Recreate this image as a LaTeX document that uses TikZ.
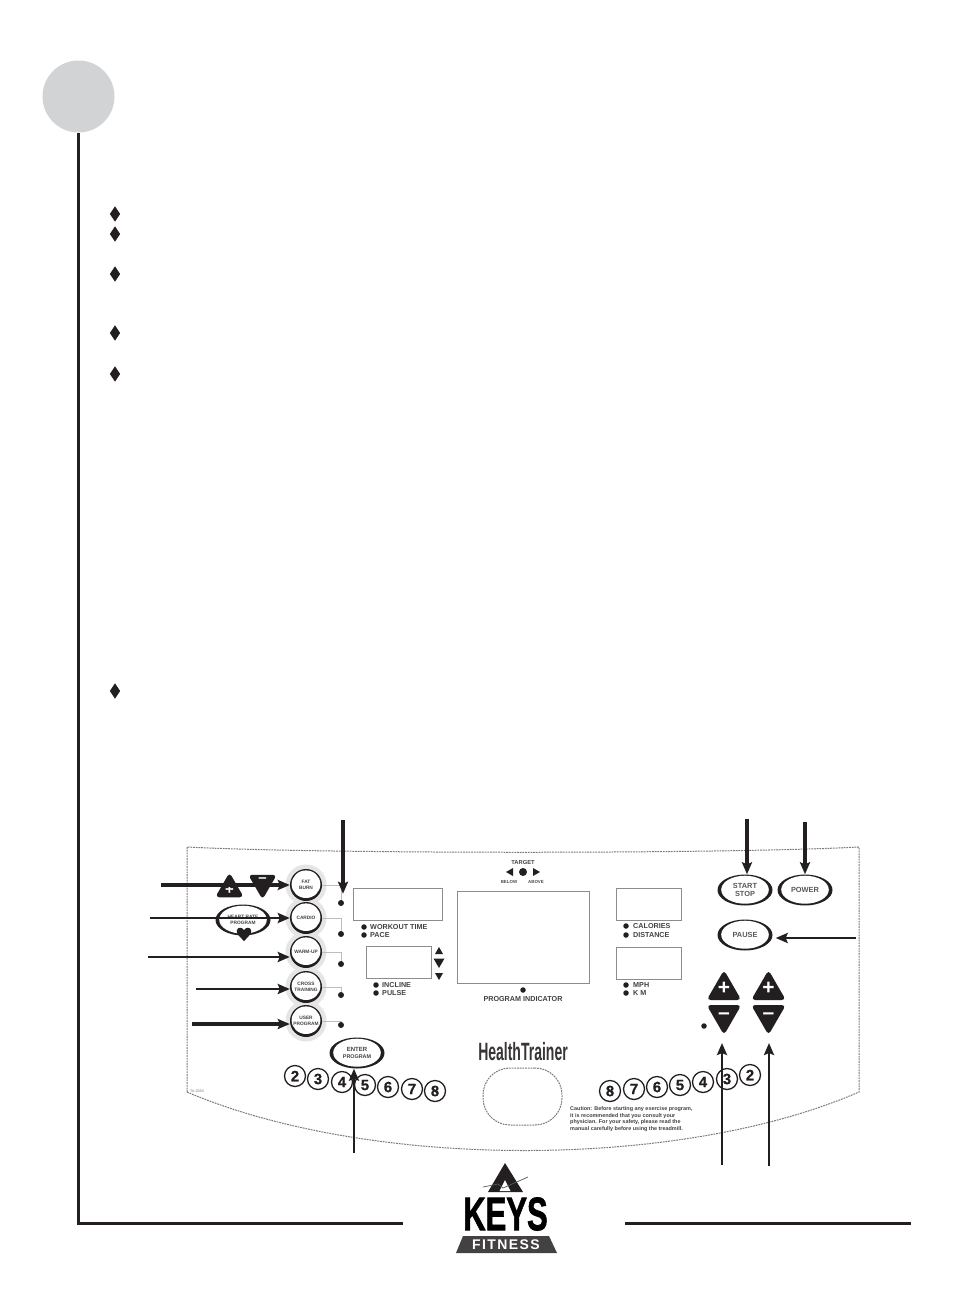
\documentclass[tikz,border=0pt]{standalone}
\usepackage{fontspec}
\setmainfont{Liberation Sans}
\newfontfamily\heavyfont[FakeBold=1.6]{Liberation Sans Bold}
\newfontfamily\spacedfont[LetterSpace=10]{Liberation Sans Bold}
\newfontfamily\semiheavy[FakeBold=.5]{Liberation Sans Bold}
\usetikzlibrary{arrows.meta,shapes.geometric,calc}
\definecolor{ink}{HTML}{231F20}
\definecolor{disc}{HTML}{D1D3D4}
\definecolor{wire}{HTML}{BDBDBD}
\definecolor{panelgray}{HTML}{7A7A7A}
\tikzset{
  ringbtn/.style n args={5}{ellipse,fill=ink,inner sep=-6pt,minimum width=#1,minimum height=#2,align=center,
     text=ink!85,font=\fontsize{5.4}{6.2}\selectfont\bfseries,
     path picture={\fill[white] ([yshift=#5]path picture bounding box.center) ellipse [x radius=#3,y radius=#4];}},
  prog/.style={ringbtn={32pt}{32pt}{14.4pt}{13.8pt}{.8pt},font=\fontsize{4.8}{5.6}\selectfont\bfseries},
  oval/.style={ringbtn={55pt}{31pt}{23.8pt}{14pt}{.3pt}},
  bigoval/.style={oval,font=\fontsize{7.4}{8.2}\selectfont\bfseries,text=ink!75},
  halo/.style={fill=black!10,draw=none},
  led/.style={circle,fill=ink,inner sep=0pt,minimum size=6pt},
  smallled/.style={circle,fill=ink,inner sep=0pt,minimum size=5.5pt},
  display/.style={rectangle,draw=black!45,line width=.8pt,fill=white,inner sep=0pt,anchor=north west},
  lbl/.style={inner sep=0pt,anchor=west,text=ink!85,font=\fontsize{7.2}{7.6}\selectfont\bfseries},
  tiny/.style={inner sep=0pt,text=ink!80,font=\fontsize{4.4}{5}\selectfont\bfseries},
  num/.style={circle,draw=ink,line width=1.3pt,fill=white,inner sep=0pt,minimum size=21pt,text=ink,font=\fontsize{15}{15}\semiheavy},
  tri/.style={regular polygon,regular polygon sides=3,fill=ink,inner sep=0pt,minimum size=40pt,rounded corners=4pt},
  tridown/.style={tri,shape border rotate=180},
  sign/.style={inner sep=0pt,text=white,font=\fontsize{21}{21}\selectfont\bfseries},
  bullet/.style={diamond,fill=ink,inner sep=0pt,minimum width=10.5pt,minimum height=15.5pt},
  rule/.style={ink,line width=3pt},
  pointer/.style={ink,line width=3.4pt,-{Stealth[length=12pt,width=10pt,inset=2pt]}},
  pointerthin/.style={ink,line width=2.8pt,-{Stealth[length=12pt,width=10pt,inset=2pt]}},
  wireline/.style={wire,line width=.6pt},
  panel/.style={panelgray,line width=1pt,dash pattern=on 1.8pt off .9pt},
}
\begin{document}
\begin{tikzpicture}[x=1pt,y=-1pt]
\path[fill=white,use as bounding box] (0,0) rectangle (954,1312);

% page furniture
\node[circle,fill=disc,inner sep=0pt,minimum size=72pt] (disc) at (78.5,96.5) {};
\coordinate (cornerBL) at (78.5,1223);
\coordinate (ruleA) at (403,1223);
\coordinate (ruleB) at (625,1223);
\coordinate (ruleC) at (911,1223);
\draw[rule] (disc.south) -- (cornerBL) -- (ruleA);
\draw[rule] (ruleB) -- (ruleC);
\foreach \y [count=\i] in {214,234,274,333,374,691}
  \node[bullet] (bul\i) at (115,\y) {};

% panel outline
\draw[panel] (187,1092) -- (187,847) .. controls (320,854) and (726,854) .. (859,847)
   -- (859,1092) .. controls (680,1170) and (370,1170) .. cycle;

% program buttons
\foreach \y in {885,918,952,987,1021} \fill[halo] (306,\y) circle (20.5pt);
\node[prog] (fat) at (306,885) {FAT\\BURN};
\node[prog] (cardio) at (306,918) {CARDIO};
\node[prog] (warm) at (306,952) {WARM-UP};
\node[prog] (cross) at (306,987) {CROSS\\TRAINING};
\node[prog] (user) at (306,1021) {USER\\PROGRAM};
\foreach \y/\n in {903/1,934/2,964/3,995/4,1025/5}
  \node[led] (led\n) at (341,\y) {};
\draw[wireline] (fat.east) -| (led1.north);
\draw[wireline] (cardio.east) -| (led2.north);
\draw[wireline] (warm.east) -| (led3.north);
\draw[wireline] (cross.east) -| (led4.north);
\draw[wireline] (user.east) -| (led5.north);

% heart-rate controls
\node[tri,minimum size=33pt] (hrUp) at (229.5,889) {};
\node[tridown,minimum size=33pt] (hrDown) at (262.5,883) {};
\node[sign,font=\fontsize{15}{15}\selectfont\bfseries] (hrPlus) at (229.5,890) {+};
\node[sign,font=\fontsize{15}{15}\selectfont\bfseries] (hrMinus) at (262.5,880) {--};
\node[oval,font=\fontsize{4.8}{5.8}\selectfont\bfseries] (hr) at (243,920) {HEART RATE\\PROGRAM};
\fill[ink] (244,941) .. controls (238,935) and (236,933) .. (237,930)
   .. controls (238,927) and (242,927) .. (244,930)
   .. controls (246,927) and (250,927) .. (251,930)
   .. controls (252,933) and (250,935) .. (244,941) -- cycle;

% displays
\node[display,minimum width=89pt,minimum height=32pt] (dispA) at (353,888) {};
\node[display,minimum width=65pt,minimum height=32pt] (dispB) at (366,946) {};
\node[display,minimum width=132pt,minimum height=92pt] (dispC) at (457,891) {};
\node[display,minimum width=65pt,minimum height=32pt] (dispD) at (616,888) {};
\node[display,minimum width=65pt,minimum height=32pt] (dispE) at (616,947) {};

% display labels
\node[smallled] (ledW) at (364,927) {};
\node[lbl] (txtW) at (370,927) {WORKOUT TIME};
\node[smallled] (ledP) at (364,935) {};
\node[lbl] (txtP) at (370,935) {PACE};
\node[smallled] (ledI) at (376,985) {};
\node[lbl] (txtI) at (382,985) {INCLINE};
\node[smallled] (ledU) at (376,993) {};
\node[lbl] (txtU) at (382,993) {PULSE};
\node[smallled] (ledC) at (626,926) {};
\node[lbl] (txtC) at (633,926) {CALORIES};
\node[smallled] (ledD) at (626,935) {};
\node[lbl] (txtD) at (633,935) {DISTANCE};
\node[smallled] (ledM) at (626,985) {};
\node[lbl] (txtM) at (633,985) {MPH};
\node[smallled] (ledK) at (626,993) {};
\node[lbl] (txtK) at (633,993) {K M};
\node[smallled] (ledG) at (523,990) {};
\node[lbl,anchor=center] (txtG) at (523,999) {PROGRAM INDICATOR};
\fill[ink] (439,947) -- (443,954) -- (435,954) -- cycle;
\fill[ink] (433.5,958.5) -- (444.5,958.5) -- (439,968) -- cycle;
\fill[ink] (435,973) -- (443,973) -- (439,980) -- cycle;

% target
\node[lbl,anchor=center,font=\fontsize{5.8}{6}\selectfont\bfseries] (target) at (523,862) {TARGET};
\node[circle,fill=ink,inner sep=0pt,minimum size=8pt] (targetLed) at (523,872) {};
\fill[ink] (506,872) -- (513,868) -- (513,876) -- cycle;
\fill[ink] (540,872) -- (533,868) -- (533,876) -- cycle;
\node[tiny] (below) at (509,882) {BELOW};
\node[tiny] (above) at (536,882) {ABOVE};

% right buttons
\node[bigoval] (start) at (745,890) {START\\STOP};
\node[bigoval] (power) at (805,890) {POWER};
\node[bigoval] (pause) at (745,935) {PAUSE};

% speed / incline keys
\node[tri] (pA) at (724,990) {};
\node[tridown] (mA) at (724,1015) {};
\node[tri] (pB) at (768.5,990) {};
\node[tridown] (mB) at (768.5,1015) {};
\node[sign] (pAs) at (724,988) {+};
\node[sign] (pBs) at (768.5,988) {+};
\node[sign] (mAs) at (724,1016) {--};
\node[sign] (mBs) at (768.5,1016) {--};
\node[smallled] (ledS) at (704,1026) {};

% enter and quick keys
\node[oval] (enter) at (357,1053) {{\fontsize{6}{6.6}\selectfont ENTER}\\PROGRAM};
\foreach \x/\y/\n in {295/1076/2,318/1079/3,342/1082/4,365/1085/5,388/1087/6,412/1089/7,435/1091/8}
  \node[num] (L\n) at (\x,\y) {\n};
\foreach \x/\y/\n in {750/1075/2,727/1079/3,703/1082/4,680/1085/5,657/1087/6,634/1089/7,610/1091/8}
  \node[num] (R\n) at (\x,\y) {\n};

% brand, oval, caution
\node[inner sep=0pt,xscale=.56,text=ink!90,font=\fontsize{25}{25}\selectfont\bfseries] (brand) at (523,1052) {HealthTrainer};
\node[rectangle,rounded corners=27pt,draw,panel,inner sep=0pt,minimum width=79pt,minimum height=57pt] (hrSensor) at (522.5,1096.5) {};
\node[inner sep=0pt,anchor=north west,align=left,text=ink!85,font=\fontsize{5.45}{6.5}\selectfont\bfseries] (caution) at (570,1106.5)
  {Caution: Before starting any exercise program,\\it is recommended that you consult your\\physician. For your safety, please read the\\manual carefully before using the treadmill.};
\node[inner sep=0pt,text=black!55,font=\fontsize{3.6}{4}\selectfont] (code) at (197,1091) {TA-0353};

% pointers
\coordinate (a1) at (161,885);
\coordinate (a2) at (150,918);
\coordinate (a3) at (148,957);
\coordinate (a4) at (196,989);
\coordinate (a5) at (192,1024);
\coordinate (a6) at (343,820);
\coordinate (a7) at (354,1153);
\coordinate (a8) at (747,819);
\coordinate (a9) at (805,822);
\coordinate (a10) at (856,938);
\coordinate (a11) at (722,1165);
\coordinate (t11) at (722,1043);
\coordinate (a12) at (769,1166);
\coordinate (t12) at (769,1043);
\draw[pointer] (a1) -- (a1 -| fat.west);
\draw[pointerthin] (a2) -- (a2 -| cardio.west);
\draw[pointerthin] (a3) -- (a3 -| warm.west);
\draw[pointerthin] (a4) -- (a4 -| cross.west);
\draw[pointer] (a5) -- (a5 -| user.west);
\draw[pointer,shorten >=6pt] (a6) -- (a6 |- led1.north);
\draw[pointerthin] (a7) -- (a7 |- enter.south);
\draw[pointer] (a8) -- (a8 |- start.north);
\draw[pointer] (a9) -- (a9 |- power.north);
\draw[pointerthin,shorten >=3pt] (a10) -- (a10 -| pause.east);
\draw[pointerthin] (a11) -- (t11);
\draw[pointerthin] (a12) -- (t12);

% KEYS FITNESS logo
\fill[ink] (505,1163) -- (523,1192) -- (488,1192) -- cycle;
\fill[white] (505,1180) -- (510.5,1191) -- (499.5,1191) -- cycle;
\draw[ink!75,line width=.7pt] (483,1187) -- (498,1184) -- (503,1188) -- (528,1177);
\node[inner sep=0pt,xscale=.66,text=black,font=\fontsize{47}{47}\heavyfont] (keys) at (505.5,1214) {KEYS};
\fill[ink!85] (463,1236) -- (549,1236) -- (557,1253) -- (456,1253) -- cycle;
\node[inner sep=0pt,text=white,font=\fontsize{14}{14}\spacedfont] (fitness) at (506,1244.5) {FITNESS};
\end{tikzpicture}
\end{document}
